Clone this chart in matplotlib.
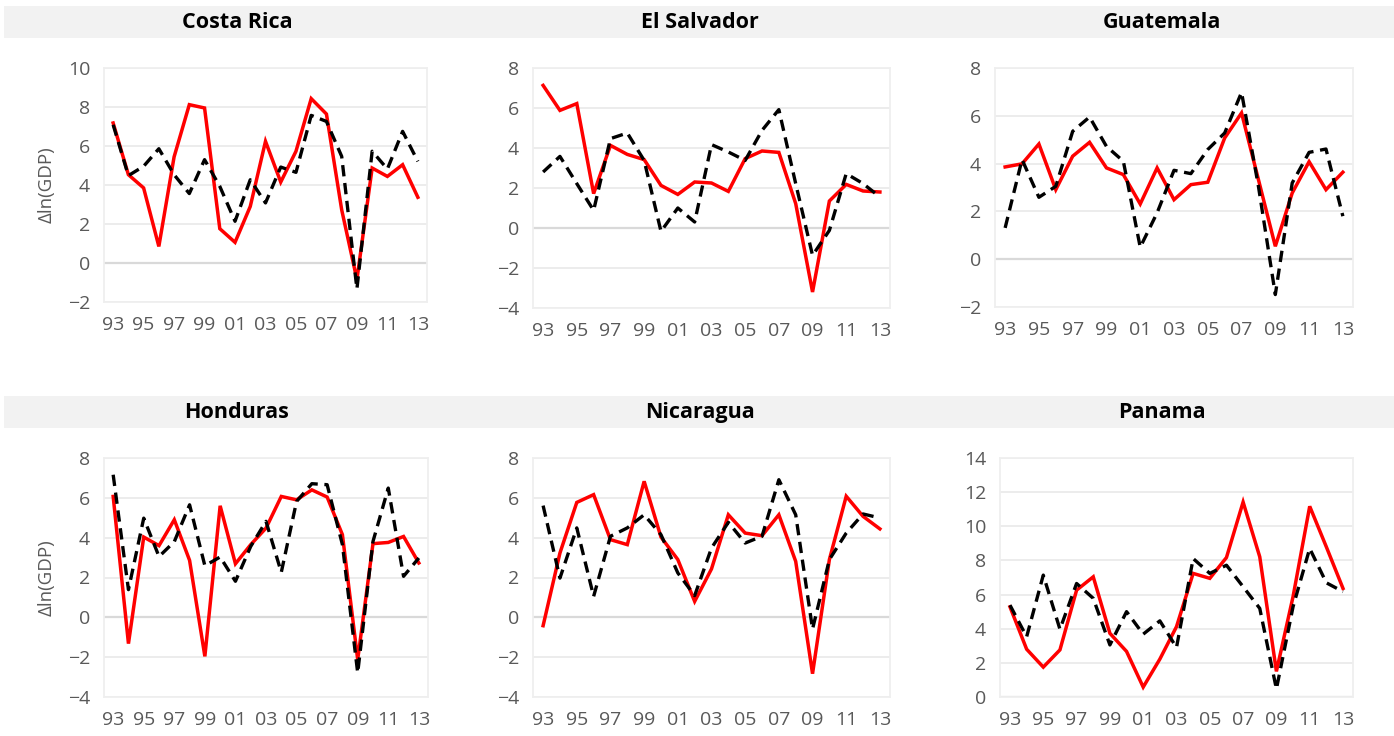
import matplotlib
matplotlib.use("Agg")
import matplotlib.pyplot as plt
from matplotlib.patches import Rectangle

plt.rcParams['font.family'] = ['Open Sans', 'DejaVu Sans']

years = list(range(1993, 2014))
tick_years = list(range(1993, 2014, 2))
tick_labels = ["93", "95", "97", "99", "01", "03", "05", "07", "09", "11", "13"]

countries = ["Costa Rica", "El Salvador", "Guatemala", "Honduras", "Nicaragua", "Panama"]

costa_rica_red = [7.18, 4.53, 3.85, 0.85, 5.44, 8.12, 7.95, 1.76, 1.06, 2.90, 6.24,
                  4.15, 5.73, 8.43, 7.64, 2.73, -0.85, 4.87, 4.44, 5.04, 3.37]
costa_rica_black = [7.09, 4.48, 4.96, 5.86, 4.53, 3.56, 5.30, 3.93, 2.14, 4.27, 3.08,
                    4.92, 4.65, 7.57, 7.26, 5.47, -1.33, 5.73, 4.82, 6.75, 5.21]

el_salvador_red = [7.13, 5.88, 6.22, 1.72, 4.13, 3.68, 3.42, 2.13, 1.68, 2.30, 2.25,
                   1.83, 3.47, 3.85, 3.78, 1.22, -3.20, 1.35, 2.18, 1.85, 1.80]
el_salvador_black = [2.80, 3.58, 2.22, 0.88, 4.47, 4.75, 3.38, -0.17, 1.00, 0.30, 4.17,
                     3.80, 3.38, 4.88, 5.92, 2.22, -1.37, -0.12, 2.72, 2.22, 1.55]

guatemala_red = [3.86, 3.99, 4.82, 2.91, 4.31, 4.89, 3.82, 3.54, 2.31, 3.82, 2.49,
                 3.12, 3.22, 5.07, 6.12, 3.33, 0.54, 2.77, 4.08, 2.91, 3.64]
guatemala_black = [1.31, 4.17, 2.59, 3.05, 5.35, 5.95, 4.72, 4.10, 0.50, 1.94, 3.72,
                   3.58, 4.59, 5.28, 6.98, 3.05, -1.48, 3.19, 4.47, 4.61, 1.80]

honduras_red = [6.07, -1.32, 4.03, 3.60, 4.90, 2.86, -1.96, 5.60, 2.69, 3.65, 4.48,
                6.07, 5.90, 6.40, 6.04, 4.15, -2.12, 3.70, 3.76, 4.06, 2.73]
honduras_black = [7.16, 1.39, 4.98, 3.05, 3.80, 5.65, 2.59, 3.03, 1.81, 3.56, 4.82,
                  2.26, 5.82, 6.71, 6.66, 3.65, -2.79, 3.81, 6.49, 2.06, 2.98]

nicaragua_red = [-0.42, 3.23, 5.77, 6.16, 3.90, 3.65, 6.83, 4.03, 2.90, 0.80, 2.43,
                 5.15, 4.23, 4.10, 5.15, 2.81, -2.83, 2.90, 6.08, 5.07, 4.44]
nicaragua_black = [5.61, 1.97, 4.49, 1.05, 4.07, 4.49, 5.15, 4.15, 2.23, 1.09, 3.48,
                   4.77, 3.73, 4.07, 6.91, 5.15, -0.59, 2.90, 4.23, 5.19, 4.99]

panama_red = [5.28, 2.80, 1.75, 2.76, 6.26, 7.04, 3.73, 2.67, 0.58, 2.22, 4.12,
              7.24, 6.95, 8.17, 11.42, 8.21, 1.50, 5.88, 11.17, 8.79, 6.36]
panama_black = [5.38, 3.53, 7.14, 3.97, 6.65, 5.78, 3.05, 5.00, 3.68, 4.46, 2.90,
                8.11, 7.24, 7.72, 6.46, 5.19, 0.47, 5.29, 8.70, 6.69, 6.17]

red_series = [costa_rica_red, el_salvador_red, guatemala_red,
              honduras_red, nicaragua_red, panama_red]
black_series = [costa_rica_black, el_salvador_black, guatemala_black,
                honduras_black, nicaragua_black, panama_black]

y_ranges = [(-2, 10), (-4, 8), (-2, 8), (-4, 8), (-4, 8), (0, 14)]

W, H = 1394, 736
fig = plt.figure(figsize=(W / 100, H / 100), dpi=100)

# axes boxes in pixels: left, right, top, bottom
boxes = [(104, 427, 68, 302), (533, 890, 68, 308), (995, 1353, 68, 307),
         (104, 428, 458, 697), (533, 890, 458, 697), (1000, 1353, 458, 697)]
title_x = [237, 700, 1162, 237, 700, 1162]
title_y = [22, 22, 22, 412, 412, 412]

# title bands
for (y0, y1) in [(6, 38), (396, 428)]:
    fig.patches.append(Rectangle((4 / W, 1 - y1 / H), (W - 4) / W, (y1 - y0) / H,
                                 transform=fig.transFigure, facecolor="#f2f2f2",
                                 edgecolor="none", zorder=0))

grid_col = "#ebebeb"
tick_col = "#595959"

for i in range(6):
    l, r, t, b = boxes[i]
    ax = fig.add_axes([l / W, 1 - b / H, (r - l) / W, (b - t) / H])
    ax.set_facecolor("white")
    ymin, ymax = y_ranges[i]
    ax.set_ylim(ymin, ymax)
    ax.set_xlim(1992.4, 2013.6)
    ax.set_yticks(range(ymin, ymax + 1, 2))
    ax.set_xticks(tick_years)
    ax.set_xticklabels(tick_labels)
    for yv in range(ymin, ymax + 1, 2):
        ax.axhline(yv, color="#d9d9d9" if yv == 0 else grid_col,
                   lw=1.6 if yv == 0 else 1.3, zorder=1)
    for s in ax.spines.values():
        s.set_color("#efefef")
        s.set_linewidth(1.3)
    ax.tick_params(axis="both", length=0, labelsize=14, colors=tick_col)
    ax.tick_params(axis="x", pad=10)
    ax.tick_params(axis="y", pad=10)
    ax.plot(years, red_series[i], color="#ff0000", lw=2.5, zorder=3,
            solid_joinstyle="miter")
    ax.plot(years, black_series[i], color="black", lw=2.4, zorder=4,
            linestyle=(0, (3.4, 2.0)))
    fig.text(title_x[i] / W, 1 - title_y[i] / H, countries[i],
             ha="center", va="center", fontsize=15.5, fontweight="bold", color="black")
    if i in (0, 3):
        ax.set_ylabel("Δln(GDP)", fontsize=13.5, color=tick_col)
        ax.yaxis.set_label_coords((56 - l) / (r - l), 0.5)

fig.savefig("out.png", dpi=100)
